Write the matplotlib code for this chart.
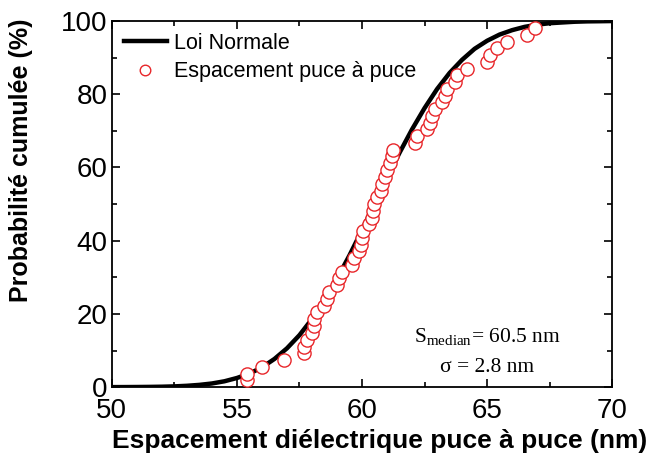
import matplotlib
matplotlib.use("Agg")
import matplotlib.pyplot as plt
from matplotlib.ticker import MultipleLocator

# normal law curve (Smedian = 60.5 nm, sigma = 2.8 nm)
curve_x = [50, 50.5, 51, 51.5, 52, 52.5, 53, 53.5, 54, 54.5, 55, 55.5, 56, 56.5,
           57, 57.5, 58, 58.5, 59, 59.5, 60, 60.5, 61, 61.5, 62, 62.5, 63, 63.5,
           64, 64.5, 65, 65.5, 66, 66.5, 67, 67.5, 68, 68.5, 69, 69.5, 70]
curve_y = [0.01, 0.02, 0.04, 0.07, 0.12, 0.21, 0.37, 0.62, 1.0, 1.6, 2.5, 3.7, 5.4, 7.7,
           10.6, 14.2, 18.6, 23.8, 29.6, 36.0, 42.9, 50.0, 57.1, 64.0, 70.4, 76.2, 81.4, 85.8,
           89.4, 92.4, 94.6, 96.3, 97.5, 98.4, 99.0, 99.4, 99.6, 99.8, 99.9, 99.94, 99.99]

# measured die-to-die spacing (nm) and cumulative probability (%)
spacing = [55.4, 55.4, 56.0, 56.9, 57.7, 57.7, 57.8, 58.0, 58.1, 58.1, 58.2, 58.5, 58.6,
           58.7, 59.0, 59.1, 59.2, 59.6, 59.7, 59.9, 59.95, 60.0, 60.05, 60.3, 60.4, 60.45,
           60.5, 60.6, 60.75, 60.8, 60.9, 61.0, 61.1, 61.2, 61.25, 62.1, 62.2, 62.6, 62.7,
           62.8, 62.9, 63.2, 63.3, 63.4, 63.7, 63.8, 64.2, 65.0, 65.1, 65.4, 65.8, 66.6, 66.9]
cumul = [1.9, 3.7, 5.5, 7.4, 9.3, 11.1, 13.0, 14.8, 16.7, 18.5, 20.4, 22.2, 24.1,
         26.0, 27.8, 29.7, 31.5, 33.4, 35.2, 37.1, 38.9, 40.8, 42.6, 44.5, 46.3, 48.2,
         50.0, 51.9, 53.7, 55.6, 57.4, 59.3, 61.1, 63.0, 64.8, 66.7, 68.5, 70.4, 72.2,
         74.1, 75.9, 77.8, 79.6, 81.5, 83.3, 85.2, 87.0, 88.9, 90.7, 92.6, 94.4, 96.3, 98.1]

plt.rcParams['font.family'] = ['Liberation Sans', 'DejaVu Sans']
plt.rcParams['mathtext.fontset'] = 'custom'
plt.rcParams['mathtext.rm'] = 'Liberation Serif'

fig = plt.figure(figsize=(6.54, 4.67), dpi=100)
ax = fig.add_axes([0.171, 0.171, 0.765, 0.784])

ax.plot(curve_x, curve_y, color="black", lw=3.2, label="Loi Normale", zorder=2)
ax.plot(spacing, cumul, ls="none", marker="o", ms=9.5, mfc="white", mec="#e8262a",
        mew=1.0, label="Espacement puce à puce", zorder=3)

ax.set_xlim(50, 70)
ax.set_ylim(0, 100)
ax.xaxis.set_major_locator(MultipleLocator(5))
ax.xaxis.set_minor_locator(MultipleLocator(2.5))
ax.yaxis.set_major_locator(MultipleLocator(20))
ax.yaxis.set_minor_locator(MultipleLocator(10))
ax.tick_params(which="both", direction="in", top=True, right=True, width=1.2)
ax.tick_params(which="major", length=6, labelsize=20)
ax.tick_params(axis="x", which="major", pad=8)
ax.tick_params(axis="y", which="major", pad=3)
ax.tick_params(which="minor", length=3.5)
for s in ax.spines.values():
    s.set_linewidth(1.3)

ax.set_xlabel("Espacement diélectrique puce à puce (nm)", fontsize=19, fontweight="bold")
ax.set_ylabel("Probabilité cumulée (%)", fontsize=18, fontweight="bold")
ax.xaxis.set_label_coords(0.535, -0.115)
ax.yaxis.set_label_coords(-0.158, 0.62)

ax.legend(loc="upper left", frameon=False, fontsize=15.5, handlelength=2.0,
          borderaxespad=0.15, handletextpad=0.35, labelspacing=0.35, markerscale=0.8)

ax.text(0.75, 0.137, r"S$_{\rm median}$= 60.5 nm", transform=ax.transAxes, ha="center",
        va="center", fontsize=15.5, family="Liberation Serif")
ax.text(0.75, 0.055, "σ = 2.8 nm", transform=ax.transAxes, ha="center",
        va="center", fontsize=15.5, family="Liberation Serif")

fig.savefig("out.png", dpi=100)
